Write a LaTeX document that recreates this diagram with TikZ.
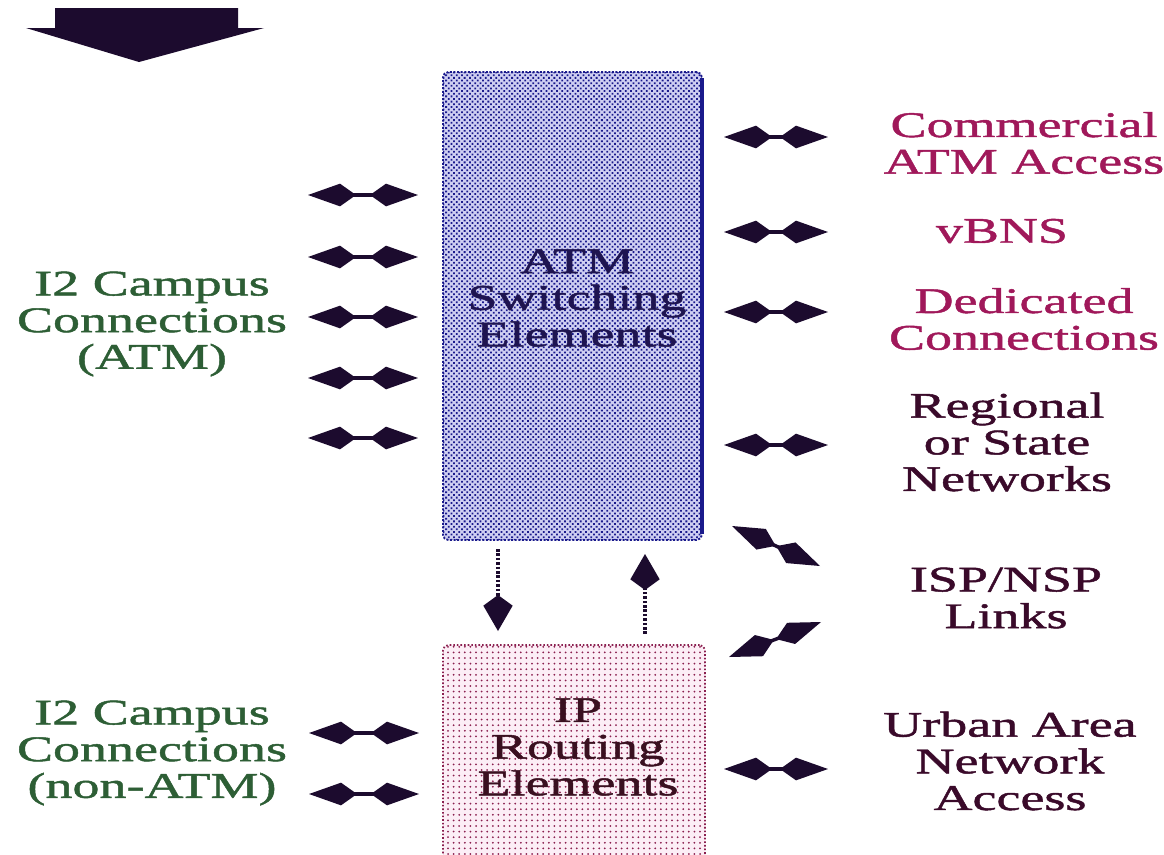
\documentclass[tikz,border=0pt]{standalone}
\usepackage{fontspec}
\setmainfont{Liberation Serif}[FakeStretch=1.5,FakeBold=1.3]
\usetikzlibrary{arrows.meta,patterns.meta}
\definecolor{arrowcol}{HTML}{1C0B2E}
\definecolor{greentxt}{HTML}{2D5E35}
\definecolor{pinktxt}{HTML}{A0185A}
\definecolor{darktxt}{HTML}{3A0A2A}
\definecolor{navytxt}{HTML}{1E1450}
\definecolor{iptxt}{HTML}{3A1020}
\definecolor{atmblue}{HTML}{1A1A8C}
\definecolor{atmbg}{HTML}{CFCFF2}
\definecolor{ipdot}{HTML}{8B2050}
\definecolor{ipbg}{HTML}{FCEEF6}
\tikzset{
  kt/.tip={Kite[length=36pt,width=17pt,inset=12pt]},
  vt/.tip={Kite[length=27pt,width=22pt,inset=8pt]},
  dbl/.style={draw=arrowcol, fill=arrowcol, line width=2.6pt, kt-kt},
  vlink/.style={draw=arrowcol, line width=2.8pt, dash pattern=on 2pt off 1.3pt},
  lbl/.style={font=\fontsize{27}{27.5}\selectfont, align=center, inner sep=0pt},
  atmbox/.style={rectangle, rounded corners=4pt, inner sep=0pt, outer sep=0pt,
    minimum width=194.25pt, minimum height=351pt,
    preaction={fill=atmbg}, pattern={Dots[distance=2.8pt,radius=0.95pt,angle=45]}, pattern color=atmblue,
    draw=atmblue, line width=1.4pt, dash pattern=on 1.5pt off 1.2pt},
  ipbox/.style={rectangle, rounded corners=4pt, inner sep=0pt, outer sep=0pt,
    minimum width=196.5pt, minimum height=168.75pt,
    preaction={fill=ipbg}, pattern={Dots[distance=4.2pt,radius=0.75pt]}, pattern color=ipdot,
    draw=ipdot, line width=1.3pt, dash pattern=on 1.2pt off 1.5pt}
}
\begin{document}
\begin{tikzpicture}[x=0.75pt,y=-0.75pt]
\useasboundingbox (0,0) rectangle (1164,854);
\fill[white] (0,0) rectangle (1164,854);

% big block arrow at top left
\fill[arrowcol] (55,8) -- (238,8) -- (238,28) -- (264,28) -- (139,62) -- (26,28) -- (55,28) -- cycle;

% boxes
\node[atmbox] (atm) at (572.5,306) {};
\draw[atmblue, line width=2.4pt] (702,78) -- (702,534);
\node[ipbox] (ip) at (574,757.5) {};

% box texts
\node[lbl, text=navytxt] (atmtxt) at (577,298) {ATM\\Switching\\Elements};
\node[lbl, text=iptxt] (iptxt) at (578,747) {IP\\Routing\\Elements};

% left labels
\node[lbl, text=greentxt] (campA) at (152,324) {I2 Campus\\Connections\\(ATM)};
\node[lbl, text=greentxt] (campN) at (152,753) {I2 Campus\\Connections\\(non-ATM)};

% right labels
\node[lbl, text=pinktxt] (comm) at (1024,143) {Commercial\\ATM Access};
\node[lbl, text=pinktxt] (vbns) at (1002,231) {vBNS};
\node[lbl, text=pinktxt] (dedi) at (1024,319) {Dedicated\\Connections};
\node[lbl, text=darktxt] (regi) at (1007,442) {Regional\\or State\\Networks};
\node[lbl, text=darktxt] (isp) at (1006,598) {ISP/NSP\\Links};
\node[lbl, text=darktxt] (urban) at (1010,761) {Urban Area\\Network\\Access};

% arrow end coordinates
\foreach \i/\y in {1/195,2/257,3/317,4/378,5/438}{
  \coordinate (la\i) at (308,\y);
  \coordinate (lb\i) at (418,\y);
}
\foreach \i/\y in {1/733,2/794}{
  \coordinate (na\i) at (309,\y);
  \coordinate (nb\i) at (419,\y);
}
\foreach \i/\y in {1/137,2/232,3/312,4/445,5/769}{
  \coordinate (ra\i) at (724,\y);
  \coordinate (rb\i) at (828,\y);
}
\coordinate (d1a) at (732,526);
\coordinate (d1b) at (820,566);
\coordinate (d2a) at (729,657);
\coordinate (d2b) at (821,622);
\coordinate (dnA) at (498,549);
\coordinate (dnB) at (498,631);
\coordinate (upA) at (645,634);
\coordinate (upB) at (645,554);

\foreach \i in {1,...,5}{ \draw[dbl] (la\i) -- (lb\i); }
\foreach \i in {1,2}{ \draw[dbl] (na\i) -- (nb\i); }
\foreach \i in {1,...,5}{ \draw[dbl] (ra\i) -- (rb\i); }
\draw[dbl] (d1a) -- (d1b);
\draw[dbl] (d2a) -- (d2b);

\draw[vlink, -vt] (dnA) -- (dnB);
\draw[vlink, -vt] (upA) -- (upB);
\end{tikzpicture}
\end{document}
